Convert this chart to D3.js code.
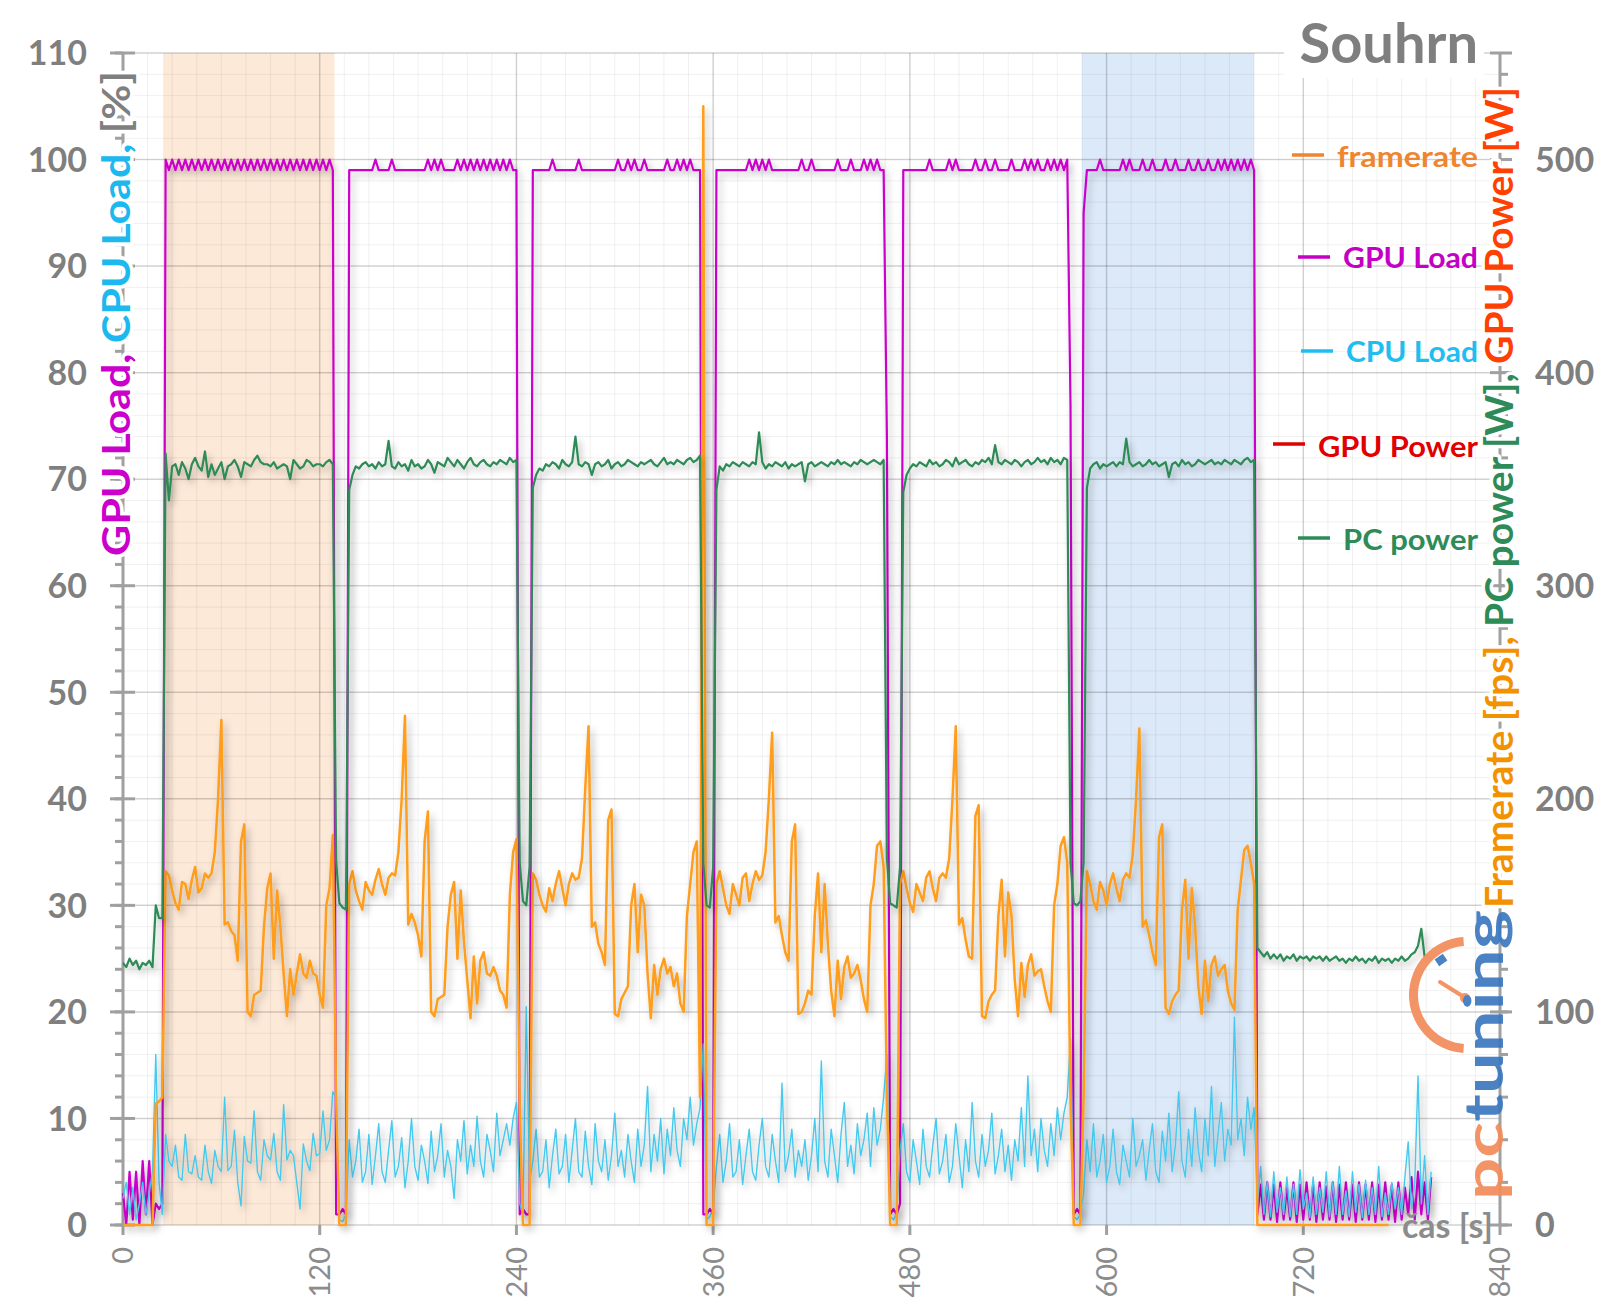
<!DOCTYPE html>
<html><head><meta charset="utf-8">
<script src="https://cdn.jsdelivr.net/npm/d3@7"></script>
<style>body{margin:0;background:#fff}svg{display:block}</style>
</head><body>
<svg id="chart" width="1600" height="1313"></svg>
<script>
// ---------------- DATA ----------------
const sampleStep = 2; // seconds between samples (x = index * sampleStep)

// Framerate [fps] (right axis), t = 0 .. 772 s
const framerate = [
0,0,0,0,0,0,0,0,0,0,
57,58,60,166,164,157,151,148,161,160,
153,162,168,156,158,165,163,165,175,200,
237,141,142,138,136,124,180,188,100,98,
108,109,110,140,158,165,125,157,140,118,
98,120,108,118,127,118,116,124,118,117,
108,102,150,158,183,60,0,0,0,160,
166,157,152,148,161,157,155,162,167,160,
155,163,165,164,175,200,239,141,146,142,
136,126,180,194,100,98,106,107,108,140,
155,161,125,157,133,115,97,126,104,124,
128,118,117,121,117,110,108,102,155,175,
181,55,0,0,0,165,162,155,150,147,
158,152,160,166,158,150,160,165,162,163,
172,205,234,140,142,132,128,122,190,195,
99,98,106,109,112,150,160,128,155,150,
118,97,122,108,120,125,118,121,112,118,
104,100,145,160,175,180,60,525,0,0,
0,160,166,158,150,146,160,155,150,163,
165,152,160,166,162,164,175,200,231,142,
145,136,128,124,180,188,99,100,104,110,
108,145,165,128,160,132,110,98,124,106,
121,126,116,118,122,115,106,100,150,160,
178,180,168,60,0,0,0,160,166,158,
151,147,160,156,152,163,166,158,152,163,
165,163,172,200,234,141,144,134,126,125,
192,197,98,97,105,108,110,145,162,126,
156,145,115,98,123,107,122,127,117,119,
120,112,105,100,150,160,178,182,170,58,
0,0,0,60,166,160,152,148,161,157,
150,160,165,158,152,162,165,163,174,200,
233,140,143,136,128,122,182,188,102,99,
105,108,110,148,162,125,158,140,112,99,
124,105,122,126,117,120,122,110,104,101,
148,162,176,178,170,160,0,0,0,0,
0,0,0,0,0,0,0,0,0,0,
0,0,0,0,0,0,0,0,0,0,
0,0,0,0,0,0,0,0,0,0,
0,0,0,0,0,0,0
];

// GPU Load [%] (left axis), t = 0 .. 798 s
const gpuLoad = [
3,0,5,0.5,5,0,6,1,6,0,
2,1.5,2,100,99,100,99,100,99,100,
99,100,99,100,99,100,99,100,99,100,
99,100,99,100,99,100,99,100,99,100,
99,100,99,100,99,100,99,100,99,100,
99,100,99,100,99,100,99,100,99,100,
99,100,99,100,99,1,1,1.5,1,99,
99,99,99,99,99,99,99,100,99,99,
99,99,100,99,99,99,99,99,99,99,
99,99,99,100,99,100,99,100,99,99,
99,99,100,99,100,99,100,99,100,99,
100,99,100,99,100,99,100,99,100,99,
99,1,1.5,1,1,99,99,99,99,99,
99,100,99,99,99,99,99,99,99,100,
99,99,99,99,99,99,99,99,99,99,
99,100,99,99,100,99,100,99,99,100,
99,99,99,99,99,99,100,99,99,100,
99,100,99,100,99,99,99,1,1,1.5,
1,99,99,99,99,99,99,99,99,99,
99,100,99,100,99,100,99,100,99,99,
99,99,99,99,99,99,99,100,99,99,
100,99,99,99,99,99,99,99,100,99,
99,99,100,99,99,99,100,99,100,99,
100,99,99,74,1,1.5,1,2,99,99,
99,99,99,99,99,99,100,99,99,99,
99,99,100,99,100,99,99,99,99,99,
100,99,99,100,99,99,100,99,99,99,
99,100,99,99,99,100,99,100,99,100,
99,99,100,99,100,99,100,99,100,77,
1,1.5,1,95,99,99,99,99,100,99,
99,99,99,99,99,100,99,100,99,99,
99,100,99,99,100,99,99,99,100,99,
99,100,99,99,99,100,99,99,100,99,
99,100,99,99,100,99,100,99,100,99,
100,99,100,99,100,99,1,3.8,0.5,4,
0.5,3.8,0.3,4,0.5,3.5,0.5,4,0.3,3.8,
0.5,4,0.5,3.8,0.3,4,0.5,3.6,0.5,4,
0.3,3.8,0.5,4,0.5,3.8,0.3,4,0.5,3.8,
0.5,4,0.3,3.8,0.5,4,0.5,3.8,0.3,4,
0.5,3.5,1,4.5,0.5,5,1,4,0.5,4.5
];

// CPU Load [%] (left axis), t = 0 .. 798 s
const cpuLoad = [
2.5,4,1,3.5,0.5,2,4,1,3,5,
16,4,1,8.5,6,5.5,7.5,4.5,4.2,8.5,
5,4.8,6.5,4.5,4.2,7.5,5,3.9,7,5.5,
5,12,5.1,5.5,8.9,4,1.8,8.3,6,5.8,
10.7,5,4.2,8,6.5,6.1,8.6,5,4.2,11.3,
6.1,7,6.5,4,1.5,7.6,6,5.1,8.6,6.5,
6.7,10.7,7,8,12.5,12,0.5,0.3,1,8,
4.5,6,9,4,5,8.5,3.8,6.5,9.5,5,
4,7,9.8,4.5,5.5,8.2,3.5,6,10,5.5,
4.2,7.5,6,3.9,8.8,5,6.5,9.5,4.5,7,
5.5,2.5,8,6,9.8,4.8,7.5,5.5,10.2,6,
4.5,8.5,7,5,10.5,6.5,8,9.5,7.5,10,
11.5,2,1,20.5,4,6,9,4.5,5,8,
3.5,6.5,9,4.8,5.5,8.5,4,7,10,5,
4.5,8.8,5.5,3.8,9.5,6,5,8,4.2,6.5,
10.5,5.5,7,4.5,8.5,6,4,9,5.5,7.5,
13,5,8.5,6,10,4.8,9,6.5,11,7,
5.5,10,8,12,7.5,9.5,11,17,0.5,0.8,
1.5,5.5,8.5,4,6,9.5,4.5,5,8,3.8,
6.5,9,5,4.2,7.5,10,5.5,4.5,8.5,6,
4,13.3,5,6.5,9,4.5,7,5.5,8,4.2,
6.5,10,5,15.4,6,4.5,9,6.5,4,8.5,
11.5,5.5,7.5,4.8,9.5,6.5,8,10.5,5.5,11,
7.5,9,12,16,0.8,0.5,1,7,9.5,5,
4,8,6,3.8,9,5.5,4.5,7.5,10,4.8,
6,8.5,4,5.5,9.5,6.5,3.5,8,5,11.5,
6,4.5,8.5,5.5,7,10.5,4.8,6.5,9,5,
7.5,4.2,8,6,11,5.5,14,6.5,9,5,
10,7,5.5,9.5,6.5,11,8,10.5,12,17.5,
0.8,0.5,1,3,8,5,9.5,4.5,6,8.5,
4,5.5,9,5,3.8,7.5,6,4.5,10,5.5,
6.5,8,4.2,7,9.5,5,4,8.8,6,10.5,
5,7.5,12.5,6,4.5,9,5.5,11,7,5,
10,6.5,13,5.5,8.5,11.5,6,9,7.5,19.5,
8,10,6.5,12,9,11,2,5.5,1,4,
0.8,5,1.2,3.5,1,4.5,0.8,3.8,1,5.2,
1.5,3,0.7,4.5,1,3.5,1.2,5,0.8,4,
1,5.5,1,3.2,0.8,5,1.2,3.8,0.7,4.2,
1,3.5,1,5.5,0.8,3,1,4,1.5,3.5,
1,4.5,7.8,1.5,4,14,2,6.5,1,5
];

// PC power [W] (right axis), t = 0 .. 794 s
const pcPower = [
123,121,125,122,124,120,123,122,124,121,
150,144,144,362,340,356,357,352,358,355,
350,357,360,356,354,363,351,357,352,355,
358,350,356,357,359,356,351,358,357,356,
359,361,358,357,357,356,358,355,356,357,
356,350,359,357,355,356,359,358,356,357,
357,356,358,359,357,171,151,149,148,345,
352,356,355,357,358,356,357,355,358,356,
357,368,356,355,358,356,357,354,359,356,
357,355,356,359,357,353,358,357,356,360,
358,356,359,357,355,358,360,357,356,358,
359,357,356,358,357,359,358,357,360,358,
359,170,152,150,168,346,352,355,354,357,
356,358,357,355,359,357,356,358,370,357,
356,358,357,352,357,358,356,357,359,355,
357,358,356,357,359,358,357,356,358,357,
358,359,357,356,358,360,357,358,357,359,
358,357,359,360,358,359,361,170,150,149,
168,345,356,354,357,356,358,357,356,358,
357,356,358,357,372,358,355,357,356,358,
357,356,358,355,357,356,357,358,349,357,
358,356,357,358,357,356,358,357,359,357,
358,357,356,358,357,359,358,357,358,359,
358,357,359,172,151,150,149,168,344,352,
355,357,356,358,357,356,359,357,358,356,
357,359,358,356,360,357,358,359,357,356,
358,357,359,358,360,357,366,358,357,359,
358,357,359,358,356,358,359,357,358,360,
358,359,357,360,358,359,357,360,359,170,
151,150,152,170,346,355,357,358,355,357,
356,357,358,356,358,357,369,358,356,357,
358,356,357,359,357,358,356,357,358,351,
357,358,356,359,357,358,356,357,359,358,
357,358,359,357,358,357,359,358,357,359,
358,357,359,360,358,359,130,128,126,128,
125,127,125,127,124,126,125,127,124,126,
125,126,124,126,125,126,124,126,124,125,
126,124,125,123,125,124,126,124,125,123,
125,124,126,123,125,124,125,123,125,124,
126,124,125,127,128,131,139,126
];

// GPU Power [W] (right axis): [time s, value]
const gpuPower = [[0,0],[772,0]];

// Axis ticks / labels
const xTicks = [0,120,240,360,480,600,720,840];
const leftTicks = [0,10,20,30,40,50,60,70,80,90,100,110];
const rightTicks = [0,100,200,300,400,500];
const highlightBands = [[24.5,129],[585,690]];
const bandColors = ['#fde9d8','#dce9f8'];
const legendNames = ['framerate','GPU Load','CPU Load','GPU Power','PC power'];
const legendColors = ['#ee8530','#c400c4','#1fbdf0','#e00000','#2e8b57'];
const titleText = 'Souhrn';
const xTitle = 'čas [s]';
const leftTitleParts = [['GPU Load, ','#cc00cc'],['CPU Load, ','#1cb8ee'],['[%]','#7f7f7f']];
const rightTitleParts = [['Framerate [fps], ','#f39200'],['PC power [W], ','#2e8b57'],['GPU Power [W]','#ff4000']];

// ---------------- DRAWING ----------------
const FONT = 'Lato, "Open Sans", sans-serif';
const svg = d3.select('#chart');
const X0 = 123, X1 = 1500, Y0 = 1225, Y1 = 53;
const x = d3.scaleLinear().domain([0,840]).range([X0,X1]);
const yL = d3.scaleLinear().domain([0,110]).range([Y0,Y1]);
const yR = d3.scaleLinear().domain([0,550]).range([Y0,Y1]);

const defs = svg.append('defs');
const f = defs.append('filter').attr('id','shadow').attr('x','-5%').attr('y','-5%').attr('width','110%').attr('height','110%');
f.append('feDropShadow').attr('dx',3).attr('dy',4).attr('stdDeviation',3.5).attr('flood-color','#000').attr('flood-opacity',0.28);

// bands
svg.append('g').selectAll('rect').data(highlightBands).join('rect')
  .attr('x',d=>x(d[0])).attr('width',d=>x(d[1])-x(d[0]))
  .attr('y',Y1).attr('height',Y0-Y1).attr('fill',(d,i)=>bandColors[i]);

// grid
const grid = svg.append('g');
grid.selectAll('line.hmin').data(d3.range(0,111,2)).join('line')
  .attr('x1',X0).attr('x2',X1).attr('y1',d=>yL(d)).attr('y2',d=>yL(d))
  .attr('stroke','#000').attr('stroke-opacity',0.06).attr('stroke-width',1);
grid.selectAll('line.vmin').data(d3.range(0,841,15)).join('line')
  .attr('y1',Y1).attr('y2',Y0).attr('x1',d=>x(d)).attr('x2',d=>x(d))
  .attr('stroke','#000').attr('stroke-opacity',0.06).attr('stroke-width',1);
grid.selectAll('line.hmaj').data(leftTicks).join('line')
  .attr('x1',X0).attr('x2',X1).attr('y1',d=>yL(d)).attr('y2',d=>yL(d))
  .attr('stroke','#000').attr('stroke-opacity',0.14).attr('stroke-width',1.5);
grid.selectAll('line.vmaj').data(xTicks).join('line')
  .attr('y1',Y1).attr('y2',Y0).attr('x1',d=>x(d)).attr('x2',d=>x(d))
  .attr('stroke','#000').attr('stroke-opacity',0.14).attr('stroke-width',1.5);

// axes
const axisColor = '#a0a0a0';
const ax = svg.append('g').attr('stroke',axisColor).attr('stroke-width',3);
ax.append('line').attr('x1',X0).attr('x2',X0).attr('y1',Y0).attr('y2',Y1);
ax.append('line').attr('x1',X1).attr('x2',X1).attr('y1',Y0).attr('y2',Y1);
ax.selectAll('line.lmin').data(d3.range(0,111,2)).join('line')
  .attr('x1',X0-8).attr('x2',X0).attr('y1',d=>yL(d)).attr('y2',d=>yL(d));
ax.selectAll('line.lmaj').data(leftTicks).join('line')
  .attr('x1',X0-13).attr('x2',X0+12).attr('y1',d=>yL(d)).attr('y2',d=>yL(d));
ax.selectAll('line.rmin').data(d3.range(0,551,20)).join('line')
  .attr('x1',X1).attr('x2',X1+8).attr('y1',d=>yR(d)).attr('y2',d=>yR(d));
ax.selectAll('line.rmaj').data(rightTicks.concat([550])).join('line')
  .attr('x1',X1-10).attr('x2',X1+12).attr('y1',d=>yR(d)).attr('y2',d=>yR(d));
ax.selectAll('line.xt').data(xTicks).join('line')
  .attr('x1',d=>x(d)).attr('x2',d=>x(d)).attr('y1',Y0).attr('y2',Y0+10);

// tick labels
svg.append('g').selectAll('text').data(leftTicks).join('text')
  .attr('x',87).attr('y',d=>yL(d)).attr('dy','0.36em').attr('text-anchor','end')
  .attr('font-family',FONT).attr('font-weight','bold').attr('font-size',34).attr('fill','#7f7f7f')
  .text(d=>d);
svg.append('g').selectAll('text').data(rightTicks).join('text')
  .attr('x',1535).attr('y',d=>yR(d)).attr('dy','0.36em').attr('text-anchor','start')
  .attr('font-family',FONT).attr('font-weight','bold').attr('font-size',34).attr('fill','#7f7f7f')
  .text(d=>d);
svg.append('g').selectAll('text').data(xTicks).join('text')
  .attr('transform',d=>`translate(${x(d)},1247) rotate(-90)`).attr('dy','0.36em').attr('text-anchor','end')
  .attr('font-family',FONT).attr('font-size',29).attr('fill','#8c8c8c')
  .text(d=>d);

// series
const series = [
  {name:'GPU Load', data:gpuLoad.map((v,i)=>[i*sampleStep,v]), y:yL, color:'#cc00cc', w:2.2},
  {name:'CPU Load', data:cpuLoad.map((v,i)=>[i*sampleStep,v]), y:yL, color:'#45c9ee', w:1.4},
  {name:'framerate', data:framerate.map((v,i)=>[i*sampleStep,v]), y:yR, color:'#ff9d1e', w:2.5},
  {name:'GPU Power', data:gpuPower, y:yR, color:'#e60000', w:3.5},
  {name:'PC power', data:pcPower.map((v,i)=>[i*sampleStep,v]), y:yR, color:'#2e8b57', w:2.2}
];
const sg = svg.append('g').attr('fill','none').attr('stroke-linejoin','round');
series.forEach(s=>{
  const line = d3.line().x(d=>x(d[0])).y(d=>s.y(d[1]));
  sg.append('path').datum(s.data).attr('d',line)
    .attr('stroke',s.color).attr('stroke-width',s.w).attr('filter','url(#shadow)');
});

// axis titles
function rotTitle(px, py, parts, len, size){
  const t = svg.append('text').attr('transform',`translate(${px},${py}) rotate(-90)`)
    .attr('font-family',FONT).attr('font-weight','bold').attr('font-size',size)
    .attr('textLength',len).attr('lengthAdjust','spacingAndGlyphs')
    .attr('stroke','#fff').attr('stroke-width',7).attr('stroke-linejoin','round').attr('paint-order','stroke');
  parts.forEach(p=>t.append('tspan').attr('fill',p[1]).text(p[0]));
}
rotTitle(130, 556, leftTitleParts, 485, 39);
rotTitle(1513, 908, rightTitleParts, 821, 39);

// chart title
svg.append('rect').attr('x',1284).attr('y',16).attr('width',200).attr('height',62).attr('fill','#fff');
svg.append('text').attr('x',1478).attr('y',63).attr('text-anchor','end')
  .attr('font-family',FONT).attr('font-weight','bold').attr('font-size',56).attr('fill','#7f7f7f')
  .text(titleText);

// x axis title
svg.append('text').attr('x',1493).attr('y',1238).attr('text-anchor','end')
  .attr('font-family',FONT).attr('font-weight','bold').attr('font-size',34).attr('fill','#8c8c8c')
  .text(xTitle);

// legend
const legendBase = [167, 268, 362, 457, 550];
const legendMarkY = [155, 257, 351, 444, 538];
const legendWidth = [141, 135, 132, 160, 135];
const lg = svg.append('g');
legendNames.forEach((n,i)=>{
  const startX = 1478 - legendWidth[i];
  lg.append('text').attr('x',1478).attr('y',legendBase[i]).attr('text-anchor','end')
    .attr('font-family',FONT).attr('font-weight','bold').attr('font-size',28)
    .attr('textLength',legendWidth[i]).attr('lengthAdjust','spacingAndGlyphs')
    .attr('fill',legendColors[i]).text(n);
  lg.append('line').attr('x1',startX-45).attr('x2',startX-13)
    .attr('y1',legendMarkY[i]).attr('y2',legendMarkY[i])
    .attr('stroke',legendColors[i]).attr('stroke-width',3.5);
});

// pctuning logo
const logo = svg.append('g').attr('opacity',0.92);
logo.append('path').attr('transform','translate(1467,995)')
  .attr('d',d3.arc().innerRadius(49).outerRadius(58).startAngle(Math.PI*1.02).endAngle(Math.PI*1.98)())
  .attr('fill','#f28c5a');
logo.append('line').attr('x1',1440).attr('y1',982).attr('x2',1464).attr('y2',997)
  .attr('stroke','#f28c5a').attr('stroke-width',4).attr('stroke-linecap','round');
logo.append('circle').attr('cx',1465).attr('cy',998).attr('r',5).attr('fill','#f28c5a');
logo.append('rect').attr('x',-5).attr('y',-4).attr('width',10).attr('height',8)
  .attr('transform','translate(1441,960) rotate(-35)').attr('fill','#3b78c0');
const lt = logo.append('text').attr('transform','translate(1503,1200) rotate(-90)')
  .attr('font-family',FONT).attr('font-weight','bold').attr('font-size',54)
  .attr('textLength',290).attr('lengthAdjust','spacingAndGlyphs');
lt.append('tspan').attr('fill','#f28c5a').text('pc');
lt.append('tspan').attr('fill','#3b78c0').text('tuning');
</script>
</body></html>
